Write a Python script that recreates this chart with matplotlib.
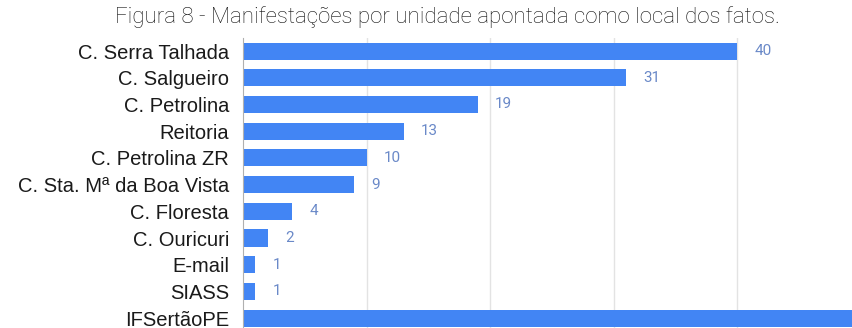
import matplotlib.pyplot as plt

# Manifestações por unidade
unidades = ['C. Serra Talhada', 'C. Salgueiro', 'C. Petrolina', 'Reitoria',
            'C. Petrolina ZR', 'C. Sta. Mª da Boa Vista', 'C. Floresta',
            'C. Ouricuri', 'E-mail', 'SIASS', 'IFSertãoPE']
quantidades = [40, 31, 19, 13, 10, 9, 4, 2, 1, 1, 60]

titulo = 'Figura 8 - Manifestações por unidade apontada como local dos fatos.'

azul = '#4285F4'
azul_rotulo = '#6a89c8'
x_max = 49.3

fig = plt.figure(figsize=(8.52, 3.28), dpi=100)
ax = fig.add_axes([243 / 852, 0.0, 1 - 243 / 852, (328 - 38) / 328])

pos = list(range(len(unidades)))
ax.barh(pos, quantidades, height=0.64, color=azul, zorder=2)

# rótulos de valor só para as barras que cabem no eixo
for y, v in zip(pos, quantidades):
    if v + 3 < x_max:
        ax.text(v + 1.4, y, str(v), va='center', ha='left', fontsize=11,
                color=azul_rotulo, family='Roboto')

ax.set_xlim(0, x_max)
ax.set_ylim(10.37, -0.49)
ax.set_xticks([10, 20, 30, 40])
ax.set_xticklabels([])
ax.tick_params(axis='x', length=0)
ax.grid(axis='x', color='#e3e3e3', linewidth=1, zorder=0)

ax.set_yticks(pos)
ax.set_yticklabels(unidades, fontsize=14.5, family='Liberation Sans', color='#1a1a1a')
ax.tick_params(axis='y', length=0, pad=10)

for lado in ['top', 'right', 'bottom']:
    ax.spines[lado].set_visible(False)
ax.spines['left'].set_color('#b0b0b0')
ax.spines['left'].set_zorder(3)

fig.text(0.525, 0.948, titulo, ha='center', va='center', fontsize=16,
         family='Roboto', fontweight='light', color='#111111')

fig.savefig('out.png', dpi=100)
